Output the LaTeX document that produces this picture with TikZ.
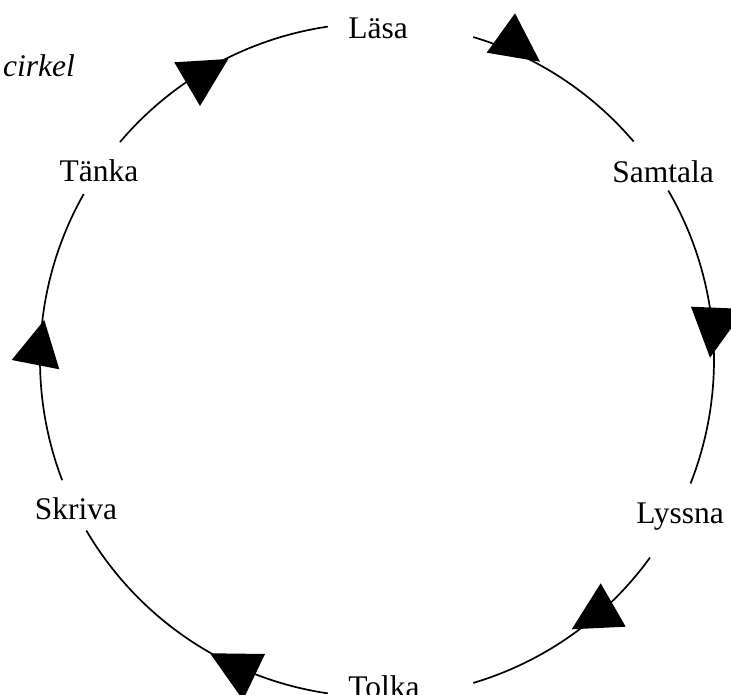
\documentclass[tikz,border=0pt]{standalone}
\usepackage{fontspec}
\setmainfont{Liberation Serif}
\begin{document}
\begin{tikzpicture}[x=1pt,y=1pt,
  lbl/.style={anchor=base,inner sep=0pt,font=\fontsize{31.5}{36}\selectfont},
  ring/.style={line width=1.7pt},
  tip/.style={fill=black}]
\useasboundingbox (0,0) rectangle (731,695);
\clip (0,0) rectangle (731,695);
\coordinate (O) at (377,335);
% labels
\node[lbl] (lasa) at (378,656) {Läsa};
\node[lbl] (samtala) at (663,512) {Samtala};
\node[lbl] (lyssna) at (680,171) {Lyssna};
\node[lbl] (tolka) at (384,-3) {Tolka};
\node[lbl] (skriva) at (76,175) {Skriva};
\node[lbl] (tanka) at (99,513) {Tänka};
\node[lbl,anchor=base west,font=\fontsize{31.5}{36}\selectfont\itshape] (cirkel) at (3,618) {cirkel};
% arc end points
\path (O) ++(73.4:337) coordinate (a1) (O) ++(30.2:337) coordinate (a2)
      (O) ++(-35.9:337) coordinate (a3) (O) ++(-98.4:337) coordinate (a4)
      (O) ++(200.9:337) coordinate (a5) (O) ++(139.7:337) coordinate (a6);
\draw[ring] (a1) arc[start angle=73.4,end angle=40.4,radius=337];
\draw[ring] (a2) arc[start angle=30.2,end angle=-21.5,radius=337];
\draw[ring] (a3) arc[start angle=-35.9,end angle=-73.4,radius=337];
\draw[ring] (a4) arc[start angle=-98.4,end angle=-149.6,radius=337];
\draw[ring] (a5) arc[start angle=200.9,end angle=150.5,radius=337];
\draw[ring] (a6) arc[start angle=139.7,end angle=98.4,radius=337];
% arrow triangles
\coordinate (t1a) at (174.3,632.7); \coordinate (t1b) at (228.3,636); \coordinate (t1c) at (200,589);
\coordinate (t2a) at (515,681.7); \coordinate (t2b) at (486.7,642.3); \coordinate (t2c) at (540,633.3);
\coordinate (t3a) at (691,388.3); \coordinate (t3b) at (745,386); \coordinate (t3c) at (710,337.3);
\coordinate (t4a) at (44.3,375); \coordinate (t4b) at (11.7,335); \coordinate (t4c) at (59.3,325.7);
\coordinate (t5a) at (600.7,111.7); \coordinate (t5b) at (571.7,65.7); \coordinate (t5c) at (625.7,68.3);
\coordinate (t6a) at (210,41.7); \coordinate (t6b) at (265,41); \coordinate (t6c) at (243,-5);
\fill[tip] (t1a) -- (t1b) -- (t1c) -- cycle;
\fill[tip] (t2a) -- (t2b) -- (t2c) -- cycle;
\fill[tip] (t3a) -- (t3b) -- (t3c) -- cycle;
\fill[tip] (t4a) -- (t4b) -- (t4c) -- cycle;
\fill[tip] (t5a) -- (t5b) -- (t5c) -- cycle;
\fill[tip] (t6a) -- (t6b) -- (t6c) -- cycle;
\end{tikzpicture}
\end{document}
